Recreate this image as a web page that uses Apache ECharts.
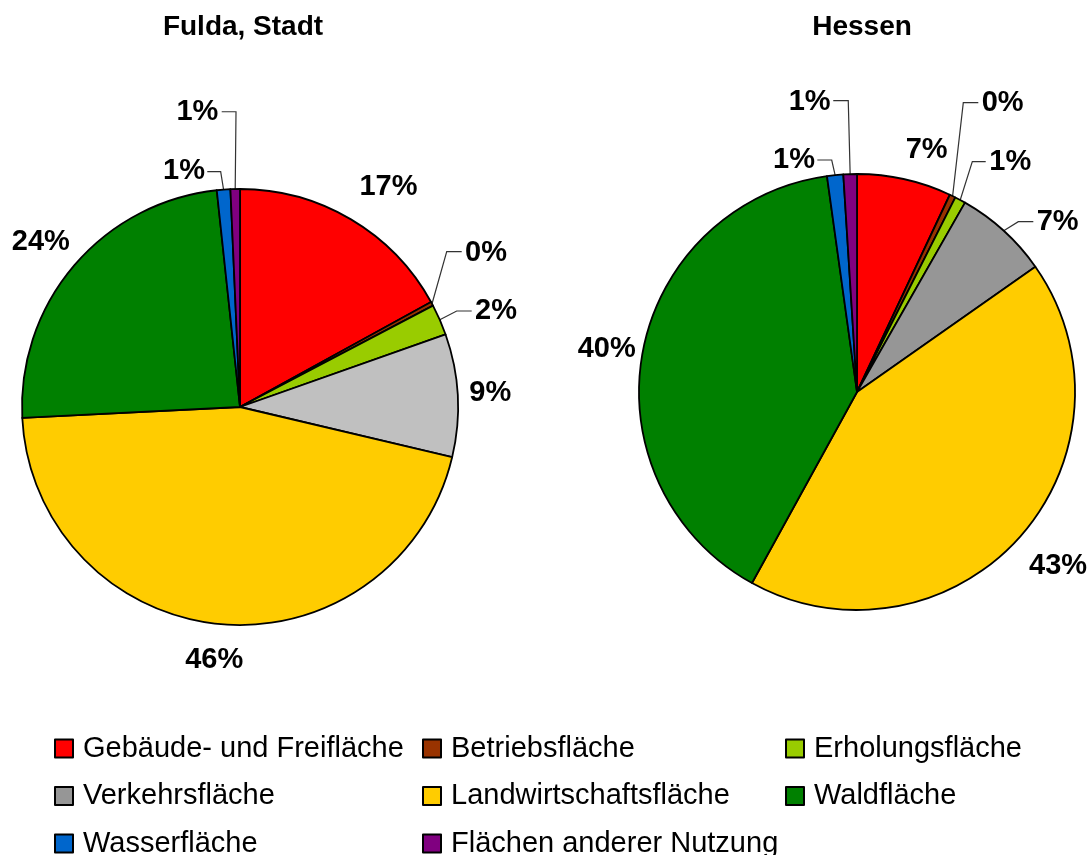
<!DOCTYPE html>
<html>
<head>
<meta charset="utf-8">
<script src="https://cdn.jsdelivr.net/npm/echarts@6/dist/echarts.min.js"></script>
<style>
  html, body { margin: 0; padding: 0; background: #fff; }
  #main { width: 1090px; height: 855px; }
</style>
</head>
<body>
<div id="main"></div>
<script>
// data
var categories = [
  "Gebäude- und Freifläche",
  "Betriebsfläche",
  "Erholungsfläche",
  "Verkehrsfläche",
  "Landwirtschaftsfläche",
  "Waldfläche",
  "Wasserfläche",
  "Flächen anderer Nutzung"
];
var fuldaShares = [17.0, 0.3, 2.3, 9.1, 45.5, 24.1, 1.0, 0.7];
var hessenShares = [7.0, 0.45, 0.8, 7.0, 42.75, 39.8, 1.2, 1.0];
var sliceColors = ["#FF0000", "#993300", "#99CC00", "#969696", "#FFCC00", "#008000", "#0066CC", "#800080"];
var fuldaGrey = "#C0C0C0";
var titles = ["Fulda, Stadt", "Hessen"];
var legendColumns = [[0, 3, 6], [1, 4, 7], [2, 5]];

var FONT = "'Liberation Sans', Arial, sans-serif";

// label placement, relative to the outer edge point of each slice
// line: [elbow, end] offsets, text: offset, align of the text
var fuldaLabelPos = [
  { line: null, text: [37.5, -32], align: "center" },
  { line: [[14.7, -52.1], [29.7, -52.1]], text: [33, -51], align: "left" },
  { line: [[16.9, -8.8], [31.9, -8.8]], text: [35.2, -8.5], align: "left" },
  { line: null, text: [11.6, -2], align: "left" },
  { line: null, text: [-6, 36], align: "center" },
  { line: null, text: [-33.4, -23.4], align: "center" },
  { line: [[-2.9, -17.9], [-16.3, -17.9]], text: [-18.6, -18.3], align: "right" },
  { line: [[0.8, -77.3], [-13.5, -77.3]], text: [-16.9, -77.2], align: "right" }
];
var hessenLabelPos = [
  { line: null, text: [22.1, -29.3], align: "center" },
  { line: [[10.7, -93.4], [25.7, -93.4]], text: [29.1, -93], align: "left" },
  { line: [[12.1, -38.3], [25.5, -38.3]], text: [29.1, -38.3], align: "left" },
  { line: [[14.6, -9.1], [29.6, -9.1]], text: [33, -9.1], align: "left" },
  { line: null, text: [38.7, 28.5], align: "center" },
  { line: null, text: [-35.9, -3], align: "center" },
  { line: [[-3.4, -15.1], [-17.8, -15.1]], text: [-20.1, -15.1], align: "right" },
  { line: [[-1.9, -73.4], [-16.9, -73.4]], text: [-19.5, -72.6], align: "right" }
];

function placeLabel(table) {
  return function (params) {
    var p = table[params.dataIndex];
    var pts = params.labelLinePoints;
    if (!p || !pts) return {};
    var o = pts[0];
    var res = {
      x: o[0] + p.text[0],
      y: o[1] + p.text[1],
      align: p.align,
      verticalAlign: "middle"
    };
    if (p.line) {
      res.labelLinePoints = [
        [o[0], o[1]],
        [o[0] + p.line[0][0], o[1] + p.line[0][1]],
        [o[0] + p.line[1][0], o[1] + p.line[1][1]]
      ];
    } else {
      res.labelLinePoints = [[o[0], o[1]], [o[0], o[1]], [o[0], o[1]]];
    }
    return res;
  };
}

function pieSeries(name, shares, center, labelTable, greyOverride) {
  return {
    type: "pie",
    name: name,
    left: 0, top: 0, width: "100%", height: "100%",
    center: center,
    radius: 218,
    startAngle: 90,
    clockwise: true,
    avoidLabelOverlap: false,
    itemStyle: { borderColor: "#000", borderWidth: 1.8 },
    emphasis: { disabled: true },
    label: {
      show: true,
      position: "outside",
      overflow: "none",
      fontSize: 29,
      fontWeight: "bold",
      fontFamily: FONT,
      color: "#000",
      formatter: function (p) { return Math.round(p.value) + "%"; }
    },
    labelLine: {
      show: true,
      length: 10,
      length2: 10,
      lineStyle: { color: "#333", width: 1.2 }
    },
    labelLayout: placeLabel(labelTable),
    data: categories.map(function (c, i) {
      var col = sliceColors[i];
      if (greyOverride && i === 3) col = greyOverride;
      return { name: c, value: shares[i], itemStyle: { color: col } };
    })
  };
}

var legendLeft = [54, 422, 785];

var chart = echarts.init(document.getElementById("main"));
var option = {
  animation: false,
  backgroundColor: "#fff",
  title: [
    { text: titles[0], left: 238, top: 8, textAlign: "center",
      textStyle: { fontSize: 28, fontWeight: "bold", fontFamily: FONT, color: "#000" } },
    { text: titles[1], left: 857, top: 8, textAlign: "center",
      textStyle: { fontSize: 28, fontWeight: "bold", fontFamily: FONT, color: "#000" } }
  ],
  legend: legendColumns.map(function (col, i) {
    return {
      orient: "vertical",
      left: legendLeft[i],
      top: 734,
      height: 200,
      padding: 0,
      itemWidth: 18,
      itemHeight: 18,
      itemGap: 18.5,
      icon: "rect",
      selectedMode: false,
      itemStyle: { borderColor: "#000", borderWidth: 2 },
      textStyle: { fontSize: 29, fontFamily: FONT, color: "#000", lineHeight: 28, padding: [0, 0, 0, 5] },
      data: col.map(function (k) {
        return { name: categories[k], itemStyle: { color: sliceColors[k] } };
      })
    };
  }),
  series: [
    pieSeries("Fulda, Stadt", fuldaShares, [240, 407], fuldaLabelPos, fuldaGrey),
    pieSeries("Hessen", hessenShares, [857, 392], hessenLabelPos, null)
  ]
};
chart.setOption(option);
</script>
</body>
</html>
